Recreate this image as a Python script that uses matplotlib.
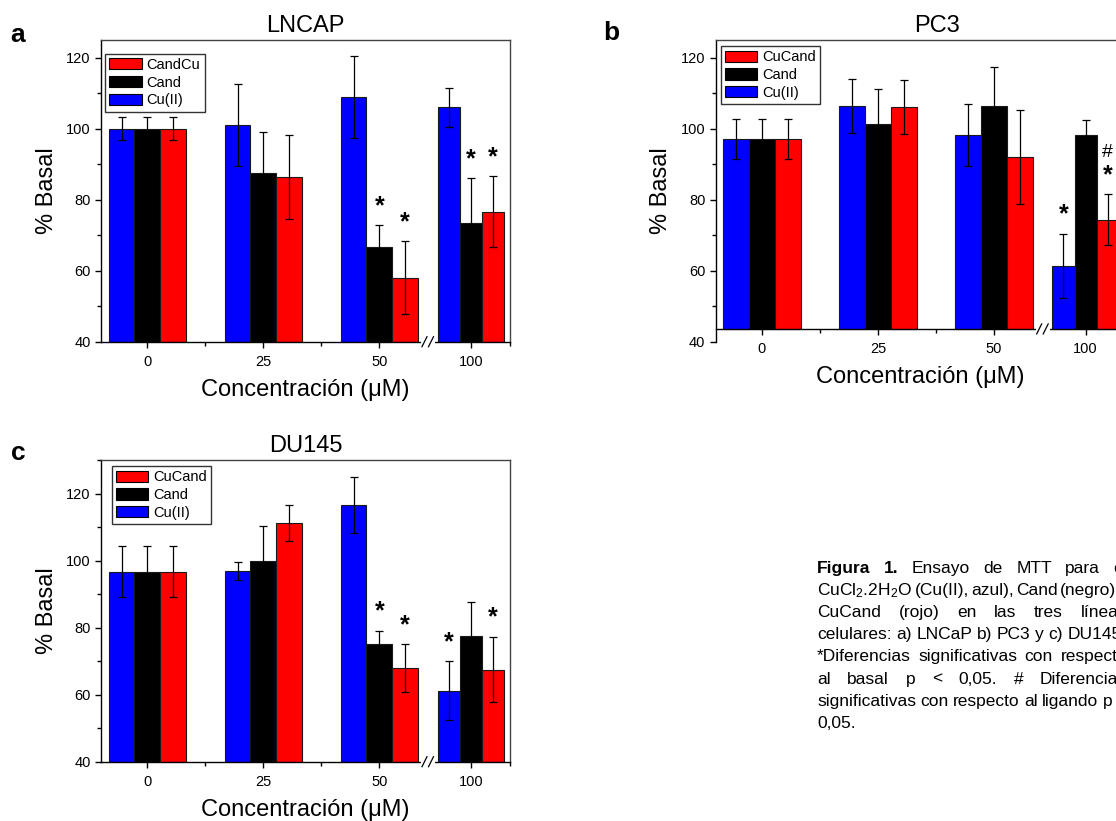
import matplotlib
matplotlib.use('Agg')
import matplotlib.pyplot as plt
import matplotlib.transforms as mtransforms
from matplotlib.lines import Line2D
from matplotlib.patches import Patch
from matplotlib.ticker import MultipleLocator
import numpy as np

plt.rcParams['font.family'] = ['Liberation Sans', 'DejaVu Sans']
plt.rcParams['mathtext.fontset'] = 'custom'
plt.rcParams['mathtext.rm'] = 'Liberation Sans'
plt.rcParams['mathtext.default'] = 'regular'

# concentrations (uM) and series, bars drawn left to right: Cu(II), Cand, complex
conc = ['0', '25', '50', '100']
colors = ['#0000ff', '#000000', '#ff0000']

# LNCAP
lncap_cu = [100.0, 101.0, 108.9, 106.0]
lncap_cu_err = [3.3, 11.5, 11.5, 5.4]
lncap_cand = [100.0, 87.5, 66.8, 73.5]
lncap_cand_err = [3.3, 11.6, 6.0, 12.6]
lncap_cx = [100.0, 86.4, 58.0, 76.6]
lncap_cx_err = [3.3, 11.9, 10.3, 10.0]
lncap_labels = ['Cu(II)', 'Cand', 'CandCu']
lncap_marks = [(2, 1, '*', 0), (2, 2, '*', 0), (3, 1, '*', 0), (3, 2, '*', 0)]

# PC3
pc3_cu = [97.1, 106.5, 98.2, 61.4]
pc3_cu_err = [5.7, 7.6, 8.8, 9.0]
pc3_cand = [97.1, 101.2, 106.5, 98.2]
pc3_cand_err = [5.7, 10.0, 10.8, 4.4]
pc3_cx = [97.1, 106.0, 92.1, 74.4]
pc3_cx_err = [5.7, 7.6, 13.3, 7.1]
pc3_labels = ['Cu(II)', 'Cand', 'CuCand']
pc3_marks = [(3, 0, '*', 0), (3, 2, '*', 0), (3, 2, '#', 1)]

# DU145
du_cu = [96.6, 96.9, 116.6, 61.2]
du_cu_err = [7.6, 2.7, 8.3, 8.8]
du_cand = [96.6, 100.0, 75.2, 77.5]
du_cand_err = [7.6, 10.3, 3.9, 10.0]
du_cx = [96.6, 111.2, 67.9, 67.5]
du_cx_err = [7.6, 5.3, 7.1, 9.8]
du_labels = ['Cu(II)', 'Cand', 'CuCand']
du_marks = [(2, 1, '*', 0), (2, 2, '*', 0), (3, 0, '*', 0), (3, 2, '*', 0)]

caption = [
    ([('Figura', 'bold'), ('1.', 'bold'), 'Ensayo', 'de', 'MTT', 'para', 'el'], True),
    ([r'CuCl$_2$.2H$_2$O', '(Cu(II),', 'azul),', 'Cand', '(negro)', 'y'], True),
    (['CuCand', '(rojo)', 'en', 'las', 'tres', 'líneas'], True),
    (['celulares:', 'a)', 'LNCaP', 'b)', 'PC3', 'y', 'c)', 'DU145.'], True),
    (['*Diferencias', 'significativas', 'con', 'respecto'], True),
    (['al', 'basal', 'p', '<', '0,05.', '#', 'Diferencias'], True),
    (['significativas', 'con', 'respecto', 'al', 'ligando', 'p', '<'], True),
    (['0,05.'], False),
]

# layout (broken x axis: 0/25/50 evenly spaced, 100 after the break)
GROUP_X = [0.0, 1.0, 2.0, 2.79]
BAR_W = [0.2216, 0.2216, 0.2216, 0.191]
XLIM = (-0.399, 3.127)
BREAK_X = 2.42
W, H = 1116, 821
CAP_FS = 12.5

fig = plt.figure(figsize=(W / 100, H / 100), dpi=100)


def axes_px(left, top, width, height):
    return fig.add_axes([left / W, 1 - (top + height) / H, width / W, height / H])


def draw_break(ax, x, y):
    cx, cy = ax.transData.transform((x, y))
    ident = mtransforms.IdentityTransform()
    fig.add_artist(Line2D([cx - 5, cx + 5], [cy, cy], color='white', lw=3,
                          transform=ident, zorder=10))
    for d in (-3.5, 3.0):
        fig.add_artist(Line2D([cx + d - 2.5, cx + d + 2.5], [cy - 5, cy + 5],
                              color='k', lw=0.9, transform=ident, zorder=11))


def draw_panel(ax, vals, errs, labels, marks, ylim, base, title, title_x, leg_anchor):
    gx = np.array(GROUP_X)
    bw = np.array(BAR_W)
    for s in range(3):
        x = gx + (s - 1) * bw
        v = np.array(vals[s])
        ax.bar(x, v - base, bottom=base, width=bw, color=colors[s],
               edgecolor='#1a1a1a', linewidth=0.8, zorder=2)
        ax.errorbar(x, v, yerr=errs[s], fmt='none', ecolor='k', elinewidth=0.9,
                    capsize=3, capthick=0.9, zorder=3)
    for g, s, txt, lvl in marks:
        x = GROUP_X[g] + (s - 1) * BAR_W[g]
        top = vals[s][g] + errs[s][g]
        ax.annotate(txt, (x, top), xytext=(0, 19 + 23 * lvl), textcoords='offset pixels',
                    ha='center', va='center', fontsize=18 if txt == '*' else 14,
                    fontweight='bold' if txt == '*' else 'normal')

    ax.set_xlim(*XLIM)
    ax.set_ylim(*ylim)
    ax.spines['bottom'].set_position(('data', base))
    for sp in ax.spines.values():
        sp.set_linewidth(1.0)
    ax.spines['top'].set_color('#444444')
    ax.spines['right'].set_color('#444444')

    ax.set_xticks(GROUP_X)
    ax.set_xticklabels(conc)
    ax.set_xticks([0.5, 1.5, XLIM[1]], minor=True)
    ax.yaxis.set_major_locator(MultipleLocator(20))
    ax.yaxis.set_minor_locator(MultipleLocator(10))
    ax.tick_params(axis='both', which='major', direction='out', length=4.5, width=1,
                   labelsize=10.5, pad=3)
    ax.tick_params(axis='x', which='major', pad=5)
    ax.tick_params(axis='both', which='minor', direction='out', length=3, width=1)

    ax.set_xlabel('Concentración (μM)', fontsize=17, labelpad=7)
    ax.set_ylabel('% Basal', fontsize=17, labelpad=6)
    ax.set_title(title, fontsize=17, pad=6, x=title_x)

    handles = [Patch(facecolor=colors[s], edgecolor='k', linewidth=0.8, label=labels[s])
               for s in (2, 1, 0)]
    leg = ax.legend(handles=handles, loc='upper left', bbox_to_anchor=leg_anchor,
                    frameon=True, fancybox=False, edgecolor='k', fontsize=10.5,
                    handlelength=2.2, handleheight=0.8, handletextpad=0.35,
                    labelspacing=0.25, borderpad=0.3, borderaxespad=0)
    leg.get_frame().set_linewidth(1.0)
    draw_break(ax, BREAK_X, base)


ax_a = axes_px(101, 40, 409, 301.7)
draw_panel(ax_a, [lncap_cu, lncap_cand, lncap_cx],
           [lncap_cu_err, lncap_cand_err, lncap_cx_err],
           lncap_labels, lncap_marks, (40, 125), 40, 'LNCAP', 0.5, (0.01, 0.955))

ax_b = axes_px(715.7, 40, 409, 301.7)
draw_panel(ax_b, [pc3_cu, pc3_cand, pc3_cx],
           [pc3_cu_err, pc3_cand_err, pc3_cx_err],
           pc3_labels, pc3_marks, (40, 125), 43.6, 'PC3', 0.54, (0.012, 0.98))

ax_c = axes_px(101, 460, 409, 301.7)
draw_panel(ax_c, [du_cu, du_cand, du_cx],
           [du_cu_err, du_cand_err, du_cx_err],
           du_labels, du_marks, (40, 130), 40, 'DU145', 0.5, (0.026, 0.98))

# panel letters
for txt, x, y in [('a', 10, 41.7), ('b', 603, 40), ('c', 11, 460)]:
    fig.text(x / W, 1 - y / H, txt, fontsize=19, fontweight='bold', va='baseline')

# justified caption
renderer = fig.canvas.get_renderer()
CAP_X0, CAP_X1 = 817, 1127
CAP_Y0, CAP_DY = 573, 22.1
for i, (words, justify) in enumerate(caption):
    y = 1 - (CAP_Y0 + i * CAP_DY) / H
    items = []
    for w in words:
        if isinstance(w, tuple):
            t = fig.text(0, y, w[0], fontsize=CAP_FS, fontweight=w[1], va='baseline')
        else:
            t = fig.text(0, y, w, fontsize=CAP_FS, va='baseline')
        items.append(t)
    widths = [t.get_window_extent(renderer).width for t in items]
    if justify and len(items) > 1:
        gap = (CAP_X1 - CAP_X0 - sum(widths)) / (len(items) - 1)
    else:
        gap = 0.278 * CAP_FS * 100 / 72
    x = CAP_X0
    for t, wd in zip(items, widths):
        t.set_x(x / W)
        x += wd + gap

fig.savefig('out.png', dpi=100, facecolor='white')
